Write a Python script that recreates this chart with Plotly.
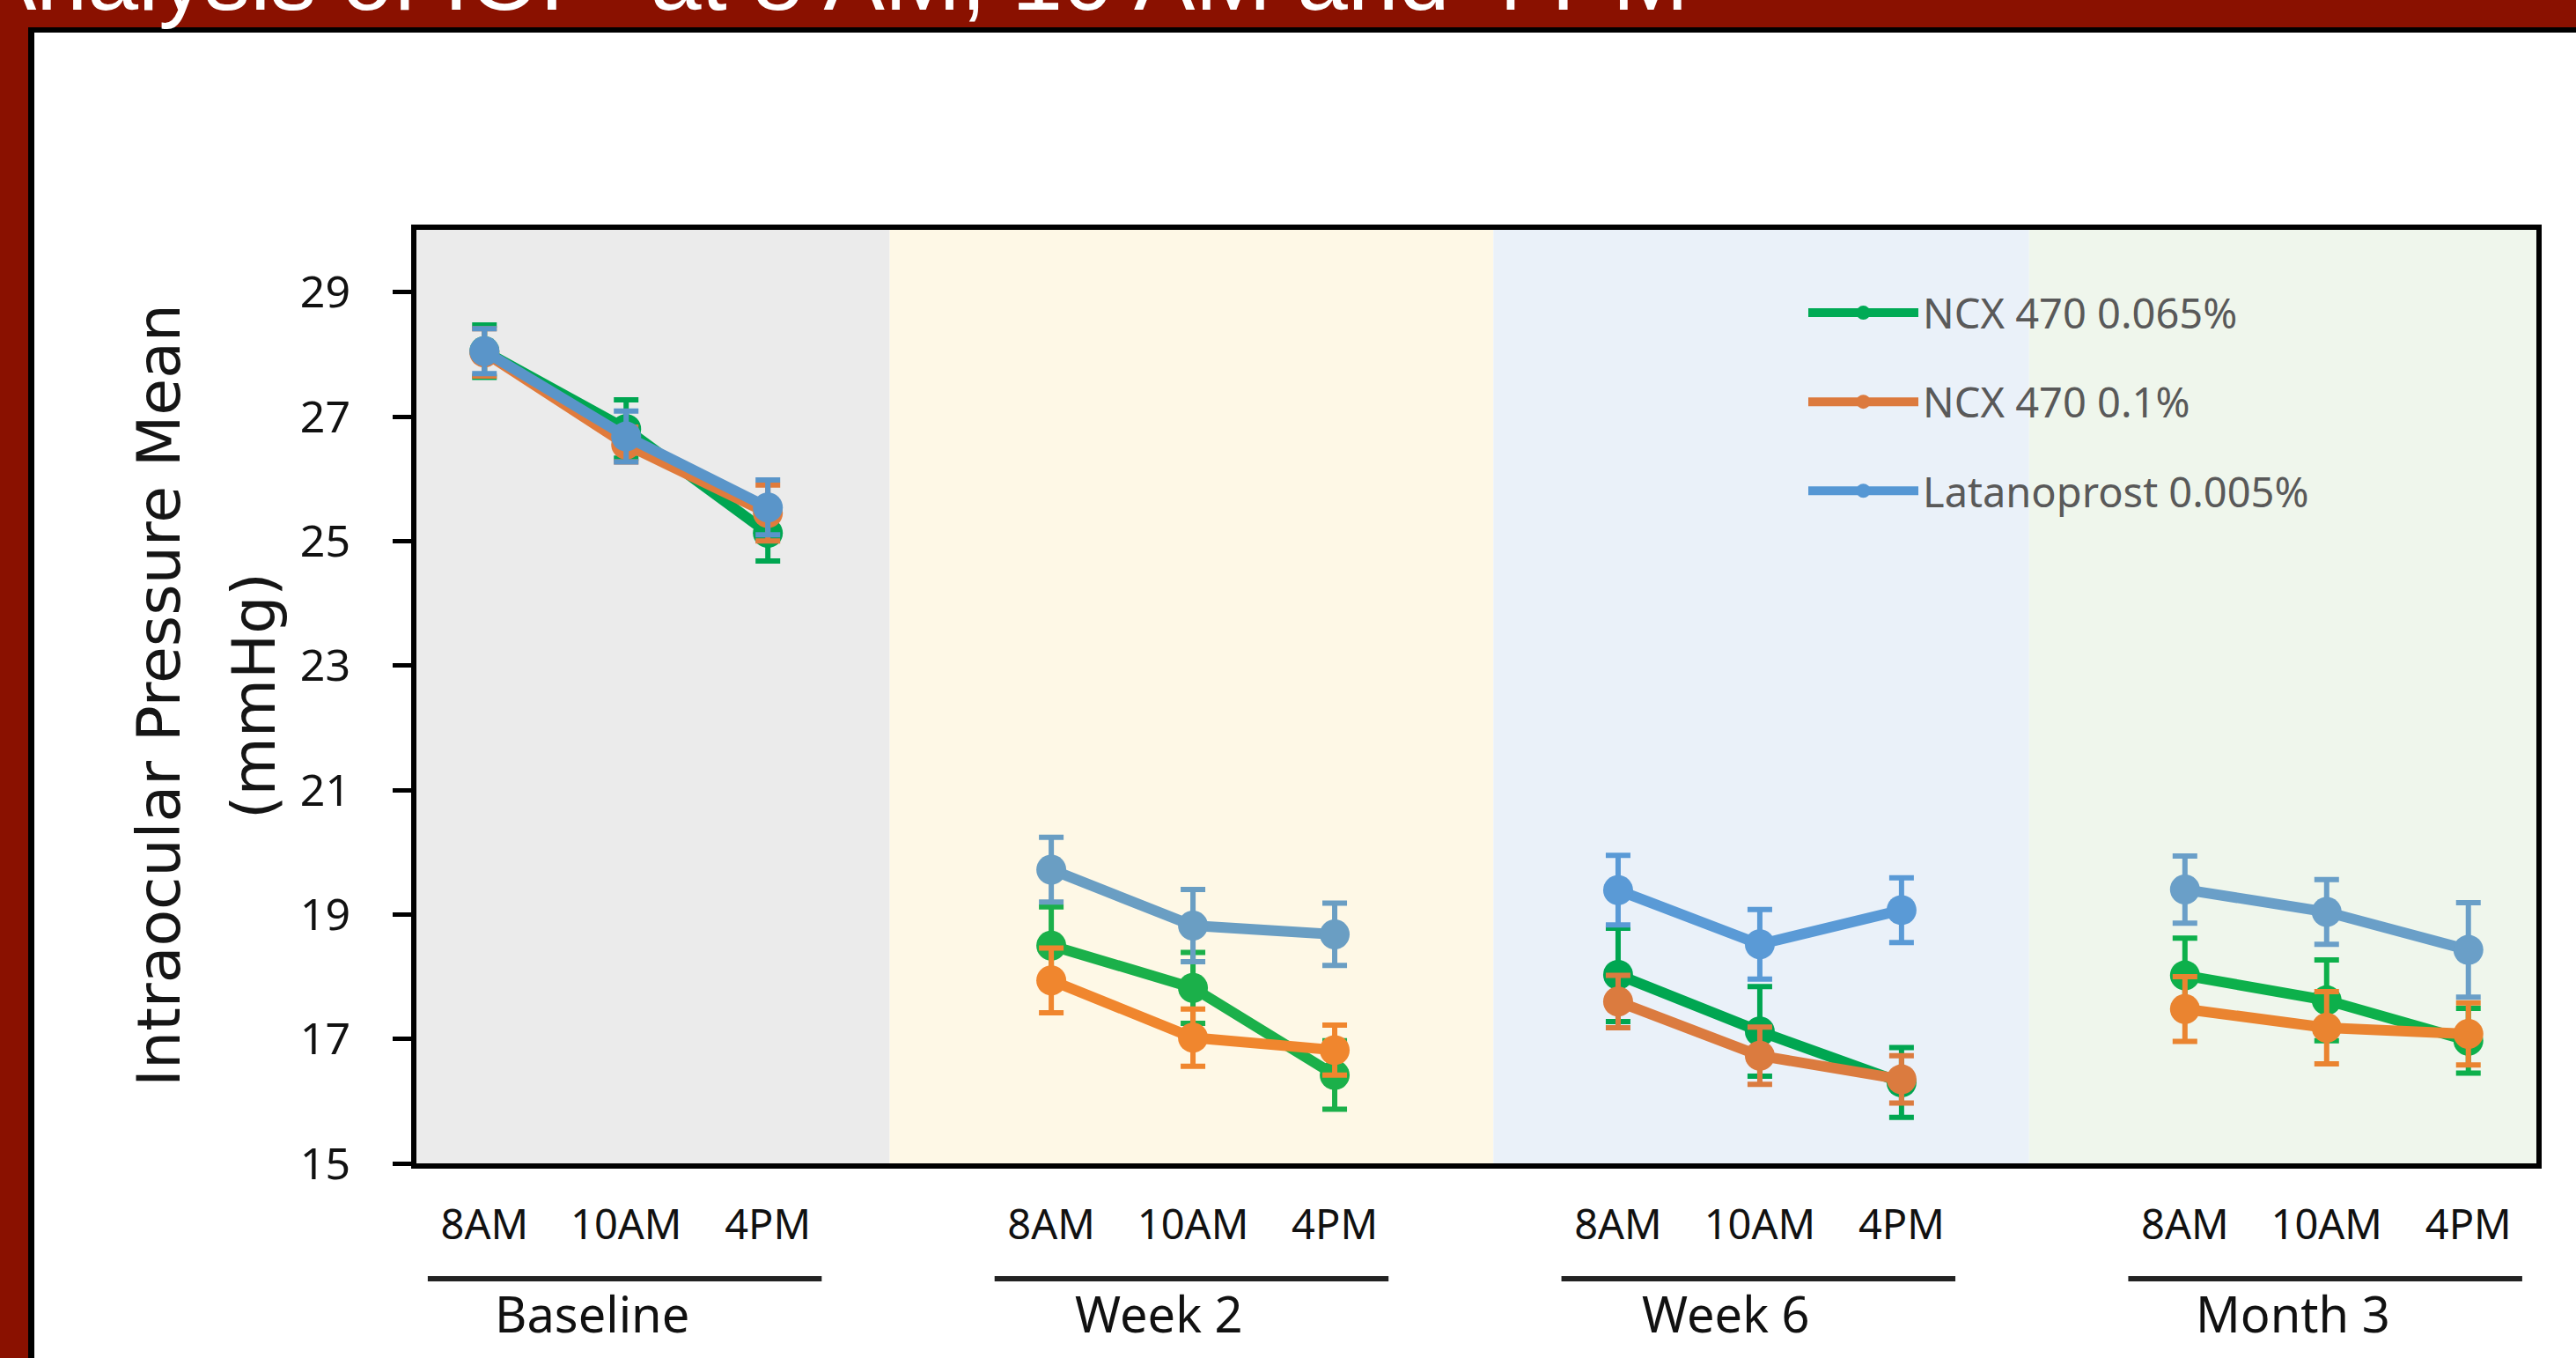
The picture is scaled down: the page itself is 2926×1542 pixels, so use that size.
import plotly.graph_objects as go

# ---------------- data ----------------
times = ["8AM", "10AM", "4PM"]
groups = ["Baseline", "Week 2", "Week 6", "Month 3"]
series_names = ["NCX 470 0.065%", "NCX 470 0.1%", "Latanoprost 0.005%"]

ncx_065 = [28.05, 26.80, 25.13, 18.50, 17.82, 16.42, 18.03, 17.12, 16.30, 18.02, 17.62, 16.97]
ncx_065_err = [0.42, 0.47, 0.45, 0.62, 0.57, 0.55, 0.75, 0.72, 0.56, 0.60, 0.65, 0.52]
ncx_01 = [28.03, 26.55, 25.45, 17.94, 17.02, 16.82, 17.60, 16.73, 16.35, 17.48, 17.18, 17.08]
ncx_01_err = [0.38, 0.28, 0.45, 0.52, 0.46, 0.40, 0.42, 0.46, 0.38, 0.52, 0.58, 0.50]
latan = [28.05, 26.68, 25.54, 19.72, 18.82, 18.68, 19.39, 18.52, 19.07, 19.40, 19.04, 18.43]
latan_err = [0.36, 0.41, 0.44, 0.52, 0.58, 0.50, 0.56, 0.56, 0.52, 0.54, 0.52, 0.76]

y_ticks = [15, 17, 19, 21, 23, 25, 27, 29]

# ---------------- style ----------------
legend_colors = ["#00AA55", "#DC7A3E", "#5597D4"]
group_colors = [
    ["#00A651", "#1BB04A", "#00A651", "#0DB04B"],   # green series
    ["#E07B3C", "#F0862E", "#DB7B3F", "#EA8430"],   # orange series
    ["#5A95C9", "#6A9EC3", "#5A9AD6", "#6A9FC8"],   # blue series
]
band_colors = ["#EBEBEB", "#FEF8E6", "#EAF1F9", "#EFF6EC"]
band_edges = [-0.48, 2.86, 7.12, 10.9, 14.48]
GROUP_STEP = 4
FRAME_RED = "#8A1100"

values = [ncx_065, ncx_01, latan]
errors = [ncx_065_err, ncx_01_err, latan_err]

n_t = len(times)
x_pos = [g * GROUP_STEP + t for g in range(len(groups)) for t in range(n_t)]
tick_text = [times[t] for g in range(len(groups)) for t in range(n_t)]

# figure pixel geometry -> paper helpers (layout only)
W, H = 2926, 1542
L, R, T, B = 473, 45, 261, 221
PW, PH = W - L - R, H - T - B
def px(xp):
    return (xp - L) / PW
def py(yp):
    return (H - B - yp) / PH

fig = go.Figure()

for s, name in enumerate(series_names):
    for g in range(len(groups)):
        sl = slice(g * n_t, (g + 1) * n_t)
        col = group_colors[s][g]
        fig.add_trace(go.Scatter(
            x=x_pos[sl], y=values[s][sl],
            mode="lines+markers",
            line=dict(color=col, width=12),
            marker=dict(color=col, size=34, symbol="circle"),
            error_y=dict(type="data", array=errors[s][sl], visible=True,
                         color=col, thickness=6, width=14),
            name=name, legendgroup=name, showlegend=False,
            hoverinfo="x+y",
        ))

for s, name in enumerate(series_names):
    fig.add_trace(go.Scatter(
        x=[None], y=[None], mode="lines+markers",
        line=dict(color=legend_colors[s], width=10),
        marker=dict(color=legend_colors[s], size=16),
        name=name, legendgroup=name, showlegend=True,
    ))

shapes = []
# slide frame: red top band and left strip, black inner edge
def frame_rect(x0, x1, y0, y1, color):
    shapes.append(dict(type="rect", xref="paper", yref="paper", layer="below",
                       x0=px(x0), x1=px(x1), y0=py(y0), y1=py(y1),
                       fillcolor=color, line=dict(width=0)))
frame_rect(39, W + 50, 37, H + 50, "white")
frame_rect(-50, W + 50, -50, 31, FRAME_RED)
frame_rect(-50, 32, -50, H + 50, FRAME_RED)
frame_rect(32, W + 50, 31, 37, "black")
frame_rect(32, 39, 31, H + 50, "black")
# phase background bands
for i, c in enumerate(band_colors):
    shapes.append(dict(type="rect", xref="x", yref="paper", layer="below",
                       x0=band_edges[i], x1=band_edges[i + 1], y0=0, y1=1,
                       fillcolor=c, line=dict(width=0)))
# group underlines
for g in range(len(groups)):
    start = g * GROUP_STEP
    shapes.append(dict(type="line", xref="x", yref="paper",
                       x0=start - 0.4, x1=start + 2.38,
                       y0=py(1452), y1=py(1452),
                       line=dict(color="#222222", width=6)))

annotations = []
for g, gname in enumerate(groups):
    annotations.append(dict(text=gname, xref="x", yref="paper",
                            x=g * GROUP_STEP + 0.76, y=py(1491),
                            xanchor="center", yanchor="middle", showarrow=False,
                            font=dict(family="Noto Sans", size=56, color="#111111")))
# y-axis title (two lines)
annotations.append(dict(text="Intraocular Pressure Mean", xref="paper", yref="paper",
                        x=px(181), y=py(790), textangle=-90, showarrow=False,
                        xanchor="center", yanchor="middle",
                        font=dict(family="DejaVu Sans", size=68, color="#151515")))
annotations.append(dict(text="(mmHg)", xref="paper", yref="paper",
                        x=px(289), y=py(790), textangle=-90, showarrow=False,
                        xanchor="center", yanchor="middle",
                        font=dict(family="DejaVu Sans", size=68, color="#151515")))
# slide title, cut by the top edge
annotations.append(dict(text="Analysis of IOP \u00a0at 8 AM, 10 AM and 4 PM",
                        xref="paper", yref="paper", x=px(-30), y=py(35),
                        xanchor="left", yanchor="bottom", showarrow=False,
                        font=dict(family="Liberation Sans", size=104, color="white")))

fig.update_layout(
    width=W, height=H, autosize=False,
    margin=dict(l=L, r=R, t=T, b=B, pad=0),
    paper_bgcolor="white",
    plot_bgcolor="white",
    shapes=shapes,
    annotations=annotations,
    showlegend=True,
    legend=dict(x=px(2049), y=py(318), xanchor="left", yanchor="top",
                bgcolor="rgba(0,0,0,0)", itemwidth=125, tracegroupgap=37,
                font=dict(family="Noto Sans", size=47, color="#595959")),
    xaxis=dict(range=[band_edges[0], band_edges[-1]], tickmode="array",
               tickvals=x_pos, ticktext=tick_text, ticks="",
               ticklabelstandoff=24,
               tickfont=dict(family="Noto Sans", size=47, color="#111111"),
               showgrid=False, zeroline=False,
               showline=True, linecolor="black", linewidth=6, mirror=True),
    yaxis=dict(range=[15, 30], tickmode="array", tickvals=y_ticks,
               ticks="outside", ticklen=21, tickwidth=5, tickcolor="black",
               ticklabelstandoff=38,
               tickfont=dict(family="Noto Sans", size=50, color="#111111"),
               showgrid=False, zeroline=False,
               showline=True, linecolor="black", linewidth=6, mirror=True),
)

fig.write_html(
    "out.html",
    config={"displayModeBar": False},
    post_script="document.body.style.margin='0';document.body.style.overflow='hidden';",
)
